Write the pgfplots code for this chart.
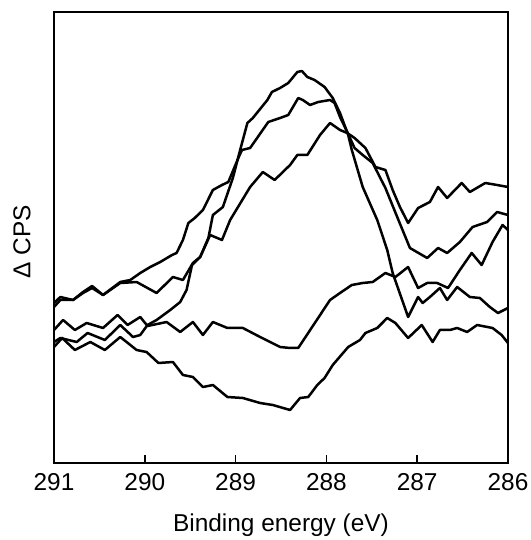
\documentclass[border=0pt]{standalone}
\usepackage{pgfplots}
\pgfplotsset{compat=1.18}
\usepackage{fontspec}
\setmainfont{Liberation Sans}
\begin{document}
\begin{tikzpicture}
\useasboundingbox (-54bp,-77bp) rectangle (477bp,463bp);
\begin{axis}[
  at={(0,0)}, anchor=south west,
  scale only axis, width=454bp, height=451bp,
  xmin=286, xmax=291, x dir=reverse, ymin=0, ymax=451,
  xtick={286,287,288,289,290,291}, ytick=\empty,
  xtick pos=left,
  tick align=inside, major tick length=8bp,
  tick style={line width=1.6bp, black},
  axis line style={line width=2bp, black},
  /pgf/number format/assume math mode=true,
  tick label style={font=\fontsize{24.5}{29}\selectfont},
  label style={font=\fontsize{24.5}{29}\selectfont},
  xticklabel style={yshift=-7bp},
  xlabel={Binding energy (eV)},
  xlabel style={at={(axis description cs:0.5,0)}, anchor=base, yshift=-68bp},
  ylabel={Δ CPS},
  ylabel style={at={(axis description cs:-0.0705,0.49)}, anchor=center},
  every axis plot post/.append style={black, line width=2.5bp, line join=round, mark=none},
]
% curve with highest peak (sharp)
\addplot coordinates {
(291.00,121)(290.93,125)(290.75,121)(290.63,130)(290.44,123)(290.27,138)(290.13,126)(290.05,128)(289.97,138)(289.87,143)(289.72,153)(289.61,161)(289.54,173)(289.48,198)(289.39,206)(289.30,225)(289.25,248)(289.14,256)(289.03,285)(288.95,313)(288.87,340)(288.81,345)(288.65,363)(288.60,371)(288.51,375)(288.42,380)(288.32,391)(288.27,392)(288.21,386)(288.13,383)(288.02,376)(287.93,365)(287.85,350)(287.76,328)(287.72,313)(287.60,276)(287.44,243)(287.33,213)(287.27,190)(287.10,146)(286.99,166)(286.94,160)(286.86,166)(286.75,175)(286.67,163)(286.56,176)(286.42,166)(286.31,165)(286.20,156)(286.11,150)(286.00,155)
};
% curve with middle peak
\addplot coordinates {
(291.00,160)(290.93,166)(290.79,163)(290.68,171)(290.58,177)(290.46,168)(290.27,181)(290.16,183)(290.05,190)(289.94,196)(289.83,201)(289.70,208)(289.65,210)(289.58,223)(289.52,240)(289.45,245)(289.36,253)(289.25,273)(289.15,278)(289.08,281)(288.97,305)(288.93,313)(288.84,315)(288.64,341)(288.51,345)(288.42,348)(288.31,365)(288.26,363)(288.18,358)(288.09,361)(287.96,363)(287.91,360)(287.85,346)(287.77,331)(287.69,315)(287.60,308)(287.49,300)(287.35,275)(287.22,246)(287.08,215)(286.89,205)(286.77,215)(286.67,210)(286.53,221)(286.39,236)(286.23,241)(286.12,251)(286.00,248)
};
% curve with lowest peak
\addplot coordinates {
(291.00,156)(290.93,163)(290.79,163)(290.68,170)(290.58,175)(290.46,168)(290.27,180)(290.09,181)(289.87,170)(289.69,186)(289.58,183)(289.47,200)(289.39,206)(289.28,228)(289.15,223)(289.06,243)(288.84,276)(288.70,291)(288.57,283)(288.40,298)(288.32,308)(288.21,308)(288.07,328)(287.96,340)(287.85,333)(287.77,330)(287.69,325)(287.57,315)(287.46,296)(287.35,293)(287.27,273)(287.19,256)(287.10,240)(286.99,255)(286.86,261)(286.77,276)(286.67,265)(286.51,280)(286.42,271)(286.25,280)(286.12,278)(286.00,276)
};
% curve with shallow dip
\addplot coordinates {
(291.00,133)(290.90,143)(290.77,133)(290.64,140)(290.46,135)(290.30,148)(290.19,138)(290.05,146)(289.97,137)(289.76,141)(289.61,131)(289.47,141)(289.36,128)(289.25,141)(289.09,135)(288.92,135)(288.73,126)(288.51,116)(288.40,115)(288.31,115)(287.96,163)(287.85,170)(287.72,178)(287.60,180)(287.49,181)(287.35,190)(287.24,186)(287.10,196)(286.99,175)(286.89,180)(286.78,180)(286.66,175)(286.53,193)(286.40,210)(286.29,198)(286.17,221)(286.06,238)(286.00,233)
};
% lowest curve
\addplot coordinates {
(291.00,116)(290.91,125)(290.77,113)(290.60,121)(290.44,113)(290.27,126)(290.09,113)(289.98,111)(289.85,100)(289.69,101)(289.58,88)(289.47,86)(289.36,76)(289.25,78)(289.09,66)(288.92,65)(288.73,60)(288.59,58)(288.40,53)(288.29,65)(288.20,66)(288.10,78)(288.02,85)(287.93,98)(287.76,116)(287.63,123)(287.57,130)(287.44,135)(287.33,145)(287.24,140)(287.10,125)(286.95,138)(286.83,121)(286.75,133)(286.64,133)(286.56,135)(286.45,131)(286.34,138)(286.17,135)(286.07,128)(286.00,120)
};
\end{axis}
\end{tikzpicture}
\end{document}
